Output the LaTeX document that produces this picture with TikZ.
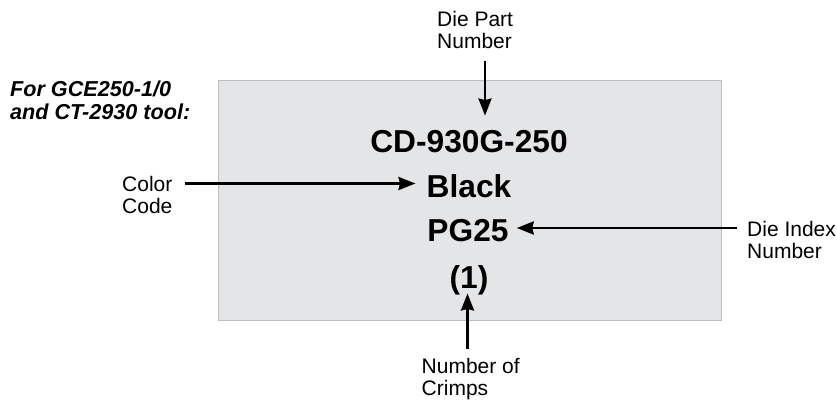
\documentclass[tikz,border=0pt]{standalone}
\usepackage{fontspec}
\setmainfont{Liberation Sans}
\usetikzlibrary{arrows.meta}
\definecolor{panelfill}{HTML}{E4E5E7}
\definecolor{panelline}{HTML}{BDBEC0}
\tikzset{
 lbl/.style={align=left,font=\fontsize{21}{22.5}\selectfont,inner sep=0pt},
 big/.style={font=\fontsize{31.7}{36}\selectfont\bfseries,inner sep=0pt},
 arr/.style={draw=black,line width=2.6pt,-{Stealth[length=17pt,width=13pt,inset=1.5pt]}}
}
\begin{document}
\begin{tikzpicture}[x=1pt,y=-1pt]
\useasboundingbox (0,0) rectangle (837,403);
\path[fill=white] (0,0) rectangle (837,403);
\node[draw=panelline,fill=panelfill,line width=1pt,minimum width=503pt,minimum height=239pt,inner sep=0pt] (panel) at (469.5,200.5) {};
\node[big] (pn) at (469,142) {CD-930G-250};
\node[big] (blk) at (469,186) {Black};
\node[big] (pg) at (468,231) {PG25};
\node[big] (cr) at (469,280.5) {(1)};
\node[lbl,anchor=west] (dp) at (437,30) {Die Part\\Number};
\node[lbl,anchor=west] (cc) at (122,195) {Color\\Code};
\node[lbl,anchor=west] (di) at (747,240) {Die Index\\Number};
\node[lbl,anchor=west] (nc) at (421.5,379) {Number of\\Crimps};
\node[anchor=west,align=left,inner sep=0pt,font=\fontsize{21.6}{22.5}\selectfont\bfseries\itshape] (fg) at (10,100.5) {For GCE250-1/0\\and CT-2930 tool:};
\coordinate (ax1) at (485,0);
\coordinate (ax4) at (467.5,0);
\coordinate (ay2) at (0,183.5);
\coordinate (ay3) at (0,228);
\draw[arr] ([yshift=-12pt]dp.south -| ax1) -- ([yshift=15pt]pn.north -| ax1);
\draw[arr] ([xshift=12pt]cc.east |- ay2) -- ([xshift=-11pt]blk.west |- ay2);
\draw[arr] ([xshift=-10pt]di.west |- ay3) -- ([xshift=8pt]pg.east |- ay3);
\draw[arr] ([yshift=9pt]nc.north -| ax4) -- ([yshift=2pt]cr.south -| ax4);
\end{tikzpicture}
\end{document}
